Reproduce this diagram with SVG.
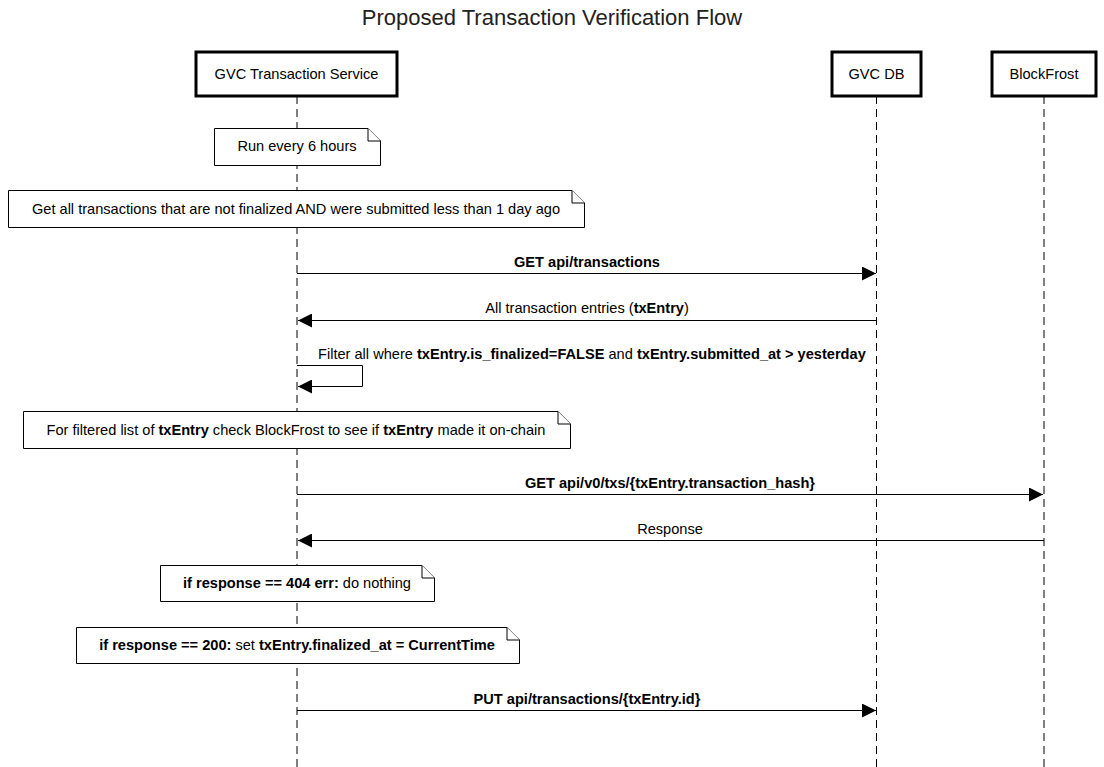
<svg xmlns="http://www.w3.org/2000/svg" width="1104" height="767" viewBox="0 0 1104 767">
<style>
text{font-family:"Liberation Sans",Arial,sans-serif;font-size:14.6px;fill:#000}
.t{font-size:22px;fill:#222}
.b{font-weight:bold}
.box{fill:#fff;stroke:#000;stroke-width:3}
.note{fill:#fff;stroke:#000;stroke-width:1}
.life{stroke:#000;stroke-width:1;stroke-dasharray:8 5;fill:none}
.msg{stroke:#000;stroke-width:1;fill:none}
</style>
<defs>
<marker id="ah" viewBox="0 0 10 10" refX="10" refY="5" markerWidth="14" markerHeight="14" markerUnits="userSpaceOnUse" orient="auto">
<path d="M0,0 L10,5 L0,10 Z" fill="#000"/>
</marker>
</defs>
<rect width="1104" height="767" fill="#fff"/>
<text class="t" x="552" y="25" text-anchor="middle">Proposed Transaction Verification Flow</text>
<g id="lifelines">
<line class="life" x1="297" y1="96" x2="297" y2="767"/>
<line class="life" x1="876.5" y1="96" x2="876.5" y2="767"/>
<line class="life" x1="1044" y1="96" x2="1044" y2="767"/>
</g>
<g id="svc"><rect class="box" x="196" y="52" width="201" height="44"/><text x="296.5" y="79" text-anchor="middle">GVC Transaction Service</text></g>
<g id="db"><rect class="box" x="832" y="52" width="89" height="44"/><text x="876.5" y="79" text-anchor="middle">GVC DB</text></g>
<g id="bf"><rect class="box" x="992" y="52" width="104" height="44"/><text x="1044" y="79" text-anchor="middle">BlockFrost</text></g>
<g id="note1"><path class="note" d="M214.5,128.5 H368 L380.5,141 V165.5 H214.5 Z"/><path class="note" d="M368,128.5 V141 H380.5" fill="none"/><text x="297" y="151" text-anchor="middle">Run every 6 hours</text></g>
<g id="note2"><path class="note" d="M8.5,190.5 H572 L584.5,203 V227.5 H8.5 Z"/><path class="note" d="M572,190.5 V203 H584.5" fill="none"/><text x="296" y="214" text-anchor="middle">Get all transactions that are not finalized AND were submitted less than 1 day ago</text></g>
<g id="note3"><path class="note" d="M23.5,411.5 H558 L570.5,424 V448.5 H23.5 Z"/><path class="note" d="M558,411.5 V424 H570.5" fill="none"/><text x="296" y="435" text-anchor="middle">For filtered list of <tspan class="b">txEntry</tspan> check BlockFrost to see if <tspan class="b">txEntry</tspan> made it on-chain</text></g>
<g id="note4"><path class="note" d="M160.5,565.5 H422 L434.5,578 V601.5 H160.5 Z"/><path class="note" d="M422,565.5 V578 H434.5" fill="none"/><text x="297" y="588" text-anchor="middle"><tspan class="b">if response == 404 err:</tspan> do nothing</text></g>
<g id="note5"><path class="note" d="M76.5,627.5 H507 L519.5,640 V663.5 H76.5 Z"/><path class="note" d="M507,627.5 V640 H519.5" fill="none"/><text x="297" y="650" text-anchor="middle"><tspan class="b">if response == 200:</tspan> set <tspan class="b">txEntry.finalized_at = CurrentTime</tspan></text></g>
<g id="connectors">
<line class="msg" x1="297" y1="273.5" x2="876" y2="273.5" marker-end="url(#ah)"/>
<text class="b" x="587" y="267" text-anchor="middle">GET api/transactions</text>
<line class="msg" x1="876.5" y1="320.5" x2="298" y2="320.5" marker-end="url(#ah)"/>
<text x="587" y="313" text-anchor="middle">All transaction entries (<tspan class="b">txEntry</tspan>)</text>
<path class="msg" d="M297,365.5 H362.5 V386.5 H298" marker-end="url(#ah)"/>
<text x="318" y="359">Filter all where <tspan class="b">txEntry.is_finalized=FALSE</tspan> and <tspan class="b">txEntry.submitted_at &gt; yesterday</tspan></text>
<line class="msg" x1="297" y1="494.5" x2="1043" y2="494.5" marker-end="url(#ah)"/>
<text class="b" x="670" y="488" text-anchor="middle">GET api/v0/txs/{txEntry.transaction_hash}</text>
<line class="msg" x1="1044" y1="540.5" x2="298" y2="540.5" marker-end="url(#ah)"/>
<text x="670" y="534" text-anchor="middle">Response</text>
<line class="msg" x1="297" y1="710.5" x2="876" y2="710.5" marker-end="url(#ah)"/>
<text class="b" x="587" y="704" text-anchor="middle">PUT api/transactions/{txEntry.id}</text>
</g>
</svg>
